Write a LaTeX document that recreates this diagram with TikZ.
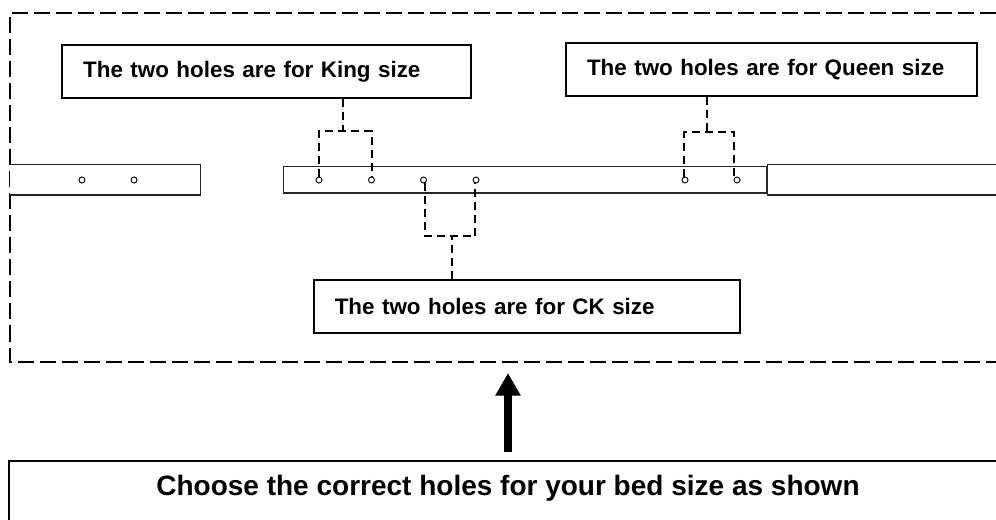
\documentclass[tikz,border=0pt]{standalone}
\usepackage{fontspec}
\setmainfont{Liberation Sans}
\usetikzlibrary{arrows.meta}
\tikzset{
  x=0.75pt,y=-0.75pt,
  labelbox/.style={draw=black,line width=1.5pt,inner sep=0pt,anchor=north west,align=left,font=\bfseries\fontsize{16.8pt}{19pt}\selectfont},
  bar/.style={draw=black!85,line width=0.8pt},
  hole/.style={draw=black,circle,line width=0.7pt,minimum size=4.5pt,inner sep=0pt,fill=white},
  lead/.style={draw=black,line width=1.5pt,dash pattern=on 6pt off 3.75pt},
  frame/.style={draw=black,line width=1.5pt,dash pattern=on 12pt off 4.5pt},
}
\begin{document}
\begin{tikzpicture}
\useasboundingbox (0,0) rectangle (996,520);
% outer dashed frame
\coordinate (fTR) at (996,13.5);
\coordinate (fTL) at (10,13.5);
\coordinate (fBL) at (10,361.5);
\coordinate (fBR) at (996,361.5);
\draw[frame] (fTR) -- (fTL) -- (fBL) -- (fBR);
% bars
\draw[bar,fill=white] (10,164.5) -- (200.5,164.5) -- (200.5,195) -- (10,195);
\draw[bar,fill=white] (283.5,166.5) rectangle (767,193);
\draw[bar,fill=white] (996,164.5) -- (767.5,164.5) -- (767.5,195) -- (996,195);
% holes
\node[hole] (a1) at (82,180) {};
\node[hole] (a2) at (134,180) {};
\node[hole] (k1) at (319,180) {};
\node[hole] (k2) at (371.5,180) {};
\node[hole] (c1) at (423.5,180) {};
\node[hole] (c2) at (476,180) {};
\node[hole] (q1) at (685,180) {};
\node[hole] (q2) at (737,180) {};
% label boxes
\node[labelbox,minimum width=306.75pt,minimum height=39.75pt,text width=275pt] (king) at (61,44) {The two holes are for King size};
\node[labelbox,minimum width=308.25pt,minimum height=39.75pt,text width=276pt] (queen) at (564.5,42.5) {The two holes are for Queen size};
\node[labelbox,minimum width=319.5pt,minimum height=40pt,text width=287.6pt] (ck) at (312.5,279) {The two holes are for CK size};
\coordinate (bTL) at (9,461);
\coordinate (bTR) at (996,461);
\coordinate (bBL) at (9,520);
\draw[black,line width=1.5pt] (bBL) -- (bTL) -- (bTR);
\node[font=\bfseries\fontsize{21pt}{24pt}\selectfont] (choose) at (508,488) {Choose the correct holes for your bed size as shown};
% leads
\coordinate (kj) at (343,131);
\coordinate (qj) at (707,132.5);
\coordinate (cj) at (452,236.5);
\draw[lead] (king.south -| kj) -- (kj);
\draw[lead] (k1.north) -- (k1.north |- kj) -- (k2.north |- kj) -- (k2.north);
\draw[lead] (queen.south -| qj) -- (qj);
\draw[lead] ([xshift=-1pt]q1.north) -- ([xshift=-1pt]q1.north |- qj) -- ([xshift=-2.2pt]q2.north |- qj) -- ([xshift=-2.2pt]q2.north);
\draw[lead] (ck.north -| cj) -- (cj);
\draw[lead] ([xshift=1pt]c1.south) -- ([xshift=1pt]c1.south |- cj) -- ([xshift=-0.7pt]c2.south |- cj) -- ([xshift=-0.7pt]c2.south);
% big arrow
\coordinate (aTop) at (508,373);
\draw[black,line width=6pt,-{Triangle[length=17pt,width=18pt]}] (508,451.5) -- (aTop);
\end{tikzpicture}
\end{document}
